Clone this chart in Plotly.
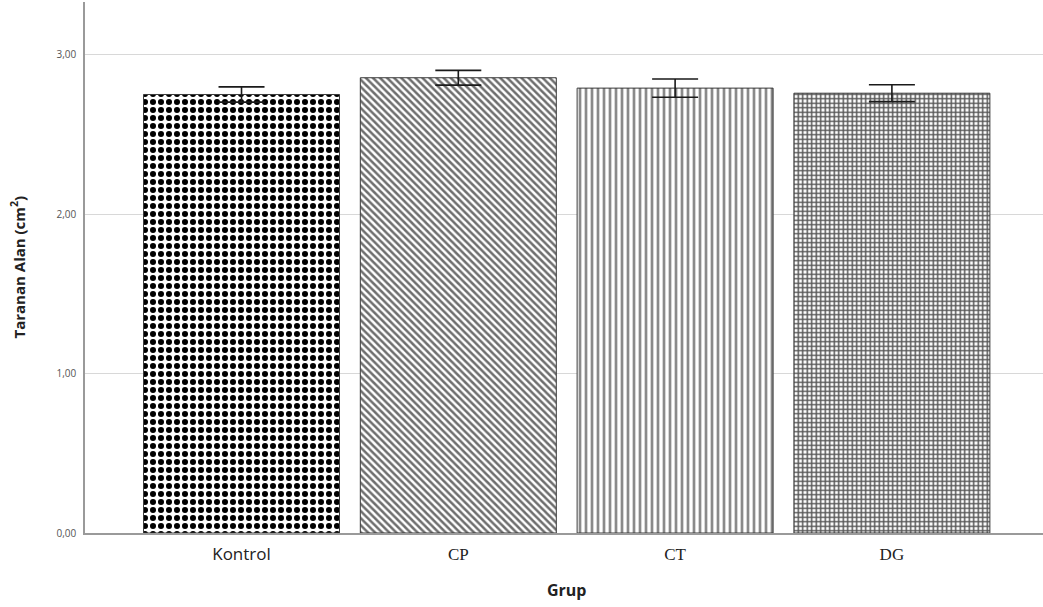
import plotly.graph_objects as go

# Group means and error half-widths (cm²)
groups = ["Kontrol", "CP", "CT", "DG"]
means = [2.75, 2.855, 2.79, 2.758]
errors = [0.048, 0.046, 0.057, 0.053]

# Tick label fonts differ per group
tick_fonts = ["Open Sans", "Liberation Serif", "Liberation Serif", "Liberation Serif"]
tick_text = [f'<span style="font-family:{f}">{g}</span>' for g, f in zip(groups, tick_fonts)]

patterns = [
    dict(shape=".", fgcolor="#000000", bgcolor="#ffffff", fgopacity=1, size=8, solidity=0.45),
    dict(shape="\\", fgcolor="#6e6e6e", bgcolor="#ffffff", fgopacity=1, size=5, solidity=0.5),
    dict(shape="|", fgcolor="#8a8a8a", bgcolor="#ffffff", fgopacity=1, size=6, solidity=0.45),
    dict(shape="+", fgcolor="#555555", bgcolor="#ffffff", fgopacity=1, size=4.5, solidity=0.55),
]

fig = go.Figure()
for i, g in enumerate(groups):
    fig.add_trace(go.Bar(
        x=[i], y=[means[i]], width=0.904,
        marker=dict(color="#ffffff", pattern=patterns[i],
                    line=dict(color="#3a3a3a", width=1)),
        error_y=dict(type="data", array=[errors[i]], visible=True,
                     color="#1a1a1a", thickness=1.6, width=23),
        showlegend=False,
    ))

fig.update_layout(
    width=1043, height=607,
    margin=dict(l=85, r=0, t=2, b=74),
    paper_bgcolor="#ffffff", plot_bgcolor="#ffffff",
    separators=",.",
    font=dict(family="Open Sans", color="#222222"),
    xaxis=dict(
        range=[-0.722, 3.697], tickmode="array", tickvals=list(range(4)),
        ticktext=tick_text, tickfont=dict(size=17, color="#222222"),
        showgrid=False, zeroline=False, showline=True, linecolor="#9a9a9a",
        linewidth=1.5, ticks="", ticklabelstandoff=5,
    ),
    yaxis=dict(
        range=[0, 3.33], tickvals=[0, 1, 2, 3], tickformat=".2f",
        tickfont=dict(size=10, color="#555555"),
        showgrid=True, gridcolor="#d8d8d8", gridwidth=1,
        zeroline=False, showline=True, linecolor="#9a9a9a", linewidth=1.5,
        ticks="", ticklabelstandoff=5,
    ),
    annotations=[
        dict(text="<b>Taranan Alan (cm<sup>2</sup>)</b>", x=(18 - 85) / 958, y=0.5,
             xref="paper", yref="paper", textangle=-90, showarrow=False,
             xanchor="center", yanchor="middle",
             font=dict(size=15, color="#222222", family="Open Sans")),
        dict(text="<b>Grup</b>", x=(567 - 85) / 958, y=-(590 - 533) / 531,
             xref="paper", yref="paper", showarrow=False,
             xanchor="center", yanchor="middle",
             font=dict(size=16, color="#222222", family="Open Sans")),
    ],
)

fig.write_html("out.html")
